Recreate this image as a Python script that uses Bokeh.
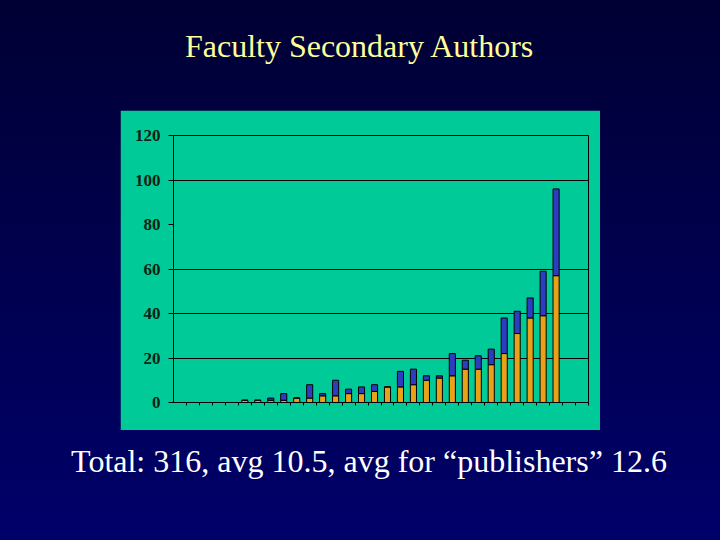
from bokeh.plotting import figure
from bokeh.layouts import column, row
from bokeh.models import Spacer, Range1d, FixedTicker, ColumnDataSource
from bokeh.core.properties import value
from bokeh.embed import file_html
from bokeh.resources import INLINE

# ---- data ----
title_text = "Faculty Secondary Authors"
caption_text = "Total: 316, avg 10.5, avg for \u201cpublishers\u201d 12.6"

slots = list(range(1, 33))  # 32 category slots on the x axis
secondary = [0, 0, 0, 0, 0,
             1, 1, 1, 1, 2, 2, 3, 3, 4, 4, 5, 7, 7, 8, 10, 11, 12, 15, 15, 17,
             22, 31, 38, 39, 57,
             0, 0]
other = [0, 0, 0, 0, 0,
         0, 0, 1, 3, 0, 6, 1, 7, 2, 3, 3, 0, 7, 7, 2, 1, 10, 4, 6, 7,
         16, 10, 9, 20, 39,
         0, 0]
y_ticks = [0, 20, 40, 60, 80, 100, 120]
grid_ticks = [20, 40, 60, 100]

ORANGE = "#E9A11A"
BLUE = "#2C3DBF"
TEAL = "#00CA98"
FONT = "Liberation Serif"

src = ColumnDataSource(dict(
    center=[s - 0.5 for s in slots],
    secondary=secondary,
    other=other,
))

# ---- title figure ----
tf = figure(width=720, height=110, x_range=Range1d(0, 720), y_range=Range1d(0, 110),
            x_axis_type=None, y_axis_type=None, output_backend="svg",
            toolbar_location=None, min_border=0)
tf.grid.visible = False
tf.outline_line_color = None
tf.background_fill_color = None
tf.border_fill_color = None
tf.text(x=[359.5], y=[65], text=[title_text], text_font=value(FONT),
        text_font_size="32px", text_color="#FFFF99",
        text_align="center", text_baseline="alphabetic")

# ---- chart figure ----
p = figure(width=480, height=320, x_range=Range1d(0, 32), y_range=Range1d(0, 120),
           output_backend="svg", toolbar_location=None,
           min_border_left=53, min_border_right=12, min_border_top=25, min_border_bottom=28)
p.background_fill_color = TEAL
p.border_fill_color = TEAL
p.outline_line_color = "black"
p.outline_line_width = 1

p.xgrid.visible = False
p.ygrid.ticker = FixedTicker(ticks=grid_ticks)
p.ygrid.grid_line_color = "black"
p.ygrid.grid_line_width = 1

p.vbar_stack(["secondary", "other"], x="center", width=0.47, color=[ORANGE, BLUE],
             line_color="black", line_width=1, source=src)

p.yaxis.ticker = FixedTicker(ticks=y_ticks)
p.yaxis.major_label_text_font = FONT
p.yaxis.major_label_text_font_style = "bold"
p.yaxis.major_label_text_font_size = "17px"
p.yaxis.major_label_text_color = "#0B1F14"
p.yaxis.major_tick_out = 5
p.yaxis.major_tick_in = 0
p.yaxis.minor_tick_line_color = None
p.yaxis.major_label_standoff = 8
p.yaxis.axis_line_color = "black"
p.yaxis.major_tick_line_color = "black"

p.xaxis.ticker = FixedTicker(ticks=slots)
p.xaxis.major_label_text_font_size = "0px"
p.xaxis.major_label_text_color = None
p.xaxis.major_tick_out = 3
p.xaxis.major_tick_in = 0
p.xaxis.minor_tick_line_color = None
p.xaxis.axis_line_color = "black"
p.xaxis.major_tick_line_color = "black"
p.xaxis.major_label_standoff = 0

# ---- caption figure ----
cf = figure(width=720, height=110, x_range=Range1d(0, 720), y_range=Range1d(0, 110),
            x_axis_type=None, y_axis_type=None, output_backend="svg",
            toolbar_location=None, min_border=0)
cf.grid.visible = False
cf.outline_line_color = None
cf.background_fill_color = None
cf.border_fill_color = None
cf.text(x=[368.5], y=[80], text=[caption_text], text_font=value(FONT),
        text_font_size="32px", text_color="white",
        text_align="center", text_baseline="alphabetic")

layout = column(
    tf,
    row(Spacer(width=120, height=320), p),
    cf,
    styles={"background": "linear-gradient(#000034, #00006A)"},
)

open("out.html", "w").write(file_html(layout, INLINE))
